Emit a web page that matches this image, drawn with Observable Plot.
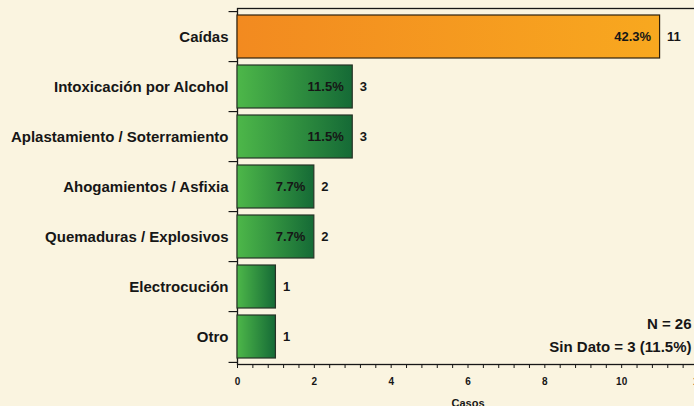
<!DOCTYPE html>
<html>
<head>
<meta charset="utf-8">
<script src="https://cdn.jsdelivr.net/npm/d3@7"></script>
<script src="https://cdn.jsdelivr.net/npm/@observablehq/plot@0.6"></script>
<style>
  html, body { margin: 0; padding: 0; background: #FAF4E0; overflow: hidden; }
  #chart svg { display: block; background: #FAF4E0; overflow: hidden; }
</style>
</head>
<body>
<div id="chart"></div>
<script>
const categorias = [
  "Caídas",
  "Intoxicación por Alcohol",
  "Aplastamiento / Soterramiento",
  "Ahogamientos / Asfixia",
  "Quemaduras / Explosivos",
  "Electrocución",
  "Otro"
];
const casos = [11, 3, 3, 2, 2, 1, 1];
const porcentajes = ["42.3%", "11.5%", "11.5%", "7.7%", "7.7%", "", ""];
const xTickLabels = [0, 2, 4, 6, 8, 10, 12];
const notas = ["N = 26", "Sin Dato = 3 (11.5%)"];
const ejeX = "Casos";

const data = categorias.map((c, i) => ({cat: c, casos: casos[i], pct: porcentajes[i], first: i === 0}));

const W = 694, H = 406, mTop = 8, mBottom = 42, mLeft = 237, mRight = -4;
const halfStep = (H - mTop - mBottom) / categorias.length / 2;
const minorTicks = d3.range(0, 12.001, 0.4);
const ink = "#161616";

const chart = Plot.plot({
  width: W,
  height: H,
  marginTop: mTop,
  marginBottom: mBottom,
  marginLeft: mLeft,
  marginRight: mRight,
  style: {fontFamily: "'Liberation Sans', Arial, sans-serif", fontWeight: "bold", background: "#FAF4E0", color: ink},
  x: {domain: [0, 12]},
  y: {domain: categorias, paddingInner: 0.14, paddingOuter: 0.07},
  marks: [
    Plot.frame({stroke: ink, strokeWidth: 1.3}),
    Plot.barX(data, {
      x: "casos", y: "cat",
      fill: d => d.first ? "url(#gradOrange)" : "url(#gradGreen)",
      stroke: d => d.first ? "#2e200c" : "#263326",
      strokeWidth: 1.2
    }),
    Plot.text(data, {x: "casos", y: "cat", text: "pct", textAnchor: "end", dx: -9, fontSize: 13, fontWeight: "bold", fill: ink}),
    Plot.text(data, {x: "casos", y: "cat", text: d => String(d.casos), textAnchor: "start", dx: 7, fontSize: 13, fontWeight: "bold", fill: ink}),
    Plot.ruleY(categorias, {y: d => d, dy: -halfStep, x1: -0.22, x2: 0, stroke: ink, strokeWidth: 1.2}),
    Plot.ruleY([categorias[categorias.length - 1]], {y: d => d, dy: halfStep, x1: -0.22, x2: 0, stroke: ink, strokeWidth: 1.2}),
    Plot.axisY({tickSize: 0, tickPadding: 9, fontSize: 15, fontWeight: "bold", fill: ink, label: null}),
    Plot.axisX({ticks: minorTicks, tickSize: 4, tickFormat: () => "", stroke: ink, label: null}),
    Plot.axisX({ticks: xTickLabels, tickSize: 0, tickPadding: 13, fontSize: 10, fontWeight: "bold", fill: ink, tickFormat: d => String(d), label: null}),
    Plot.text([ejeX], {frameAnchor: "bottom", dy: 42, fontSize: 11, fontWeight: "bold", fill: ink}),
    Plot.text([notas.join("\n")], {frameAnchor: "bottom-right", textAnchor: "end", lineAnchor: "bottom", dx: -7, dy: -13, lineHeight: 1.53, fontSize: 15, fontWeight: "bold", fill: ink})
  ]
});

const svg = d3.select(chart.tagName.toLowerCase() === "svg" ? chart : chart.querySelector("svg"));
const defs = svg.insert("defs", ":first-child");
const gO = defs.append("linearGradient").attr("id", "gradOrange").attr("x1", "0").attr("x2", "1").attr("y1", "0").attr("y2", "0");
gO.append("stop").attr("offset", "0").attr("stop-color", "#F28A20");
gO.append("stop").attr("offset", "1").attr("stop-color", "#F8A81F");
const gG = defs.append("linearGradient").attr("id", "gradGreen").attr("x1", "0").attr("x2", "1").attr("y1", "0").attr("y2", "0");
gG.append("stop").attr("offset", "0").attr("stop-color", "#4DB749");
gG.append("stop").attr("offset", "1").attr("stop-color", "#156A36");

document.getElementById("chart").appendChild(chart);
</script>
</body>
</html>
